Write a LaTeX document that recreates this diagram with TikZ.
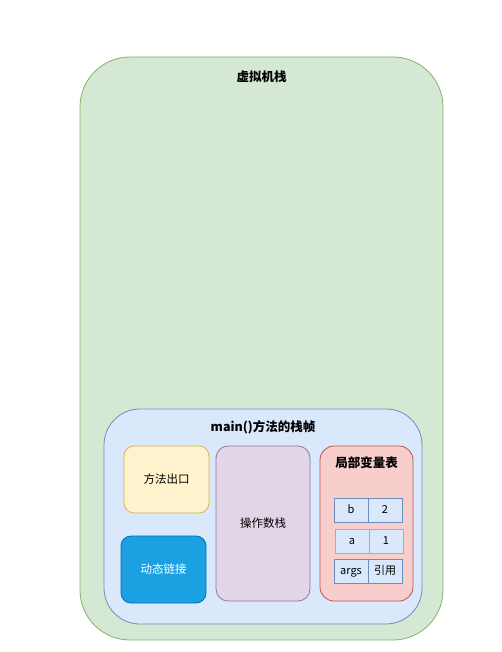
\documentclass[tikz,border=0pt]{standalone}
\usepackage{fontspec}
\setmainfont{Liberation Sans}
\newfontfamily\cjk{Noto Sans CJK SC}
\definecolor{gfill}{HTML}{D5E8D4}\definecolor{gline}{HTML}{82B366}
\definecolor{bfill}{HTML}{DAE8FC}\definecolor{bline}{HTML}{6C8EBF}
\definecolor{yfill}{HTML}{FFF2CC}\definecolor{yline}{HTML}{D6B656}
\definecolor{pfill}{HTML}{E1D5E7}\definecolor{pline}{HTML}{9673A6}
\definecolor{rfill}{HTML}{F8CECC}\definecolor{rline}{HTML}{B85450}
\definecolor{dfill}{HTML}{1BA1E2}\definecolor{dline}{HTML}{006EAF}
\tikzset{
  box/.style={draw=#1line, fill=#1fill, line width=0.8pt},
  cell/.style={draw=bline, fill=bfill, line width=0.9pt, minimum width=34pt, minimum height=24pt, inner sep=0pt, text height=8.5pt, text depth=2.5pt, font=\fontsize{11}{13}\selectfont\cjk},
  lbl/.style={font=\fontsize{11.5}{14}\selectfont\cjk},
  ttl/.style={font=\fontsize{12.5}{15}\selectfont\cjk\bfseries},
}
\begin{document}
\begin{tikzpicture}[x=1pt,y=-1pt]
\useasboundingbox (0,0) rectangle (501,652);
\draw[box=g, rounded corners=50pt] (80,57) rectangle (443,640);
\node[ttl] (vm) at (261.5,77) {虚拟机栈};
\draw[box=b, rounded corners=36pt] (104,409) rectangle (422,624);
\node[ttl] (frame) at (263,427) {main()方法的栈帧};
\draw[box=y, rounded corners=10pt] (124,446) rectangle (209,513);
\node[lbl] (exit) at (166.5,479.5) {方法出口};
\draw[draw=dline, fill=dfill, line width=0.8pt, rounded corners=10pt] (121,536) rectangle (206,603);
\node[lbl, text=white] (link) at (163.5,569.5) {动态链接};
\draw[box=p, rounded corners=12pt] (216,446) rectangle (310,601);
\node[lbl] (ops) at (263,523.5) {操作数栈};
\draw[box=r, rounded corners=14pt] (320,446) rectangle (413,601);
\node[ttl] (lvt) at (366.5,463) {局部变量表};
\node[cell] (b) at (351,510) {b};
\node[cell] (b2) at (385,510) {2};
\node[cell, draw=bline!70] (a) at (352,541) {a};
\node[cell, draw=bline!70] (a1) at (386,541) {1};
\node[cell] (args) at (351,571) {args};
\node[cell] (ref) at (385,571) {引用};
\end{tikzpicture}
\end{document}
